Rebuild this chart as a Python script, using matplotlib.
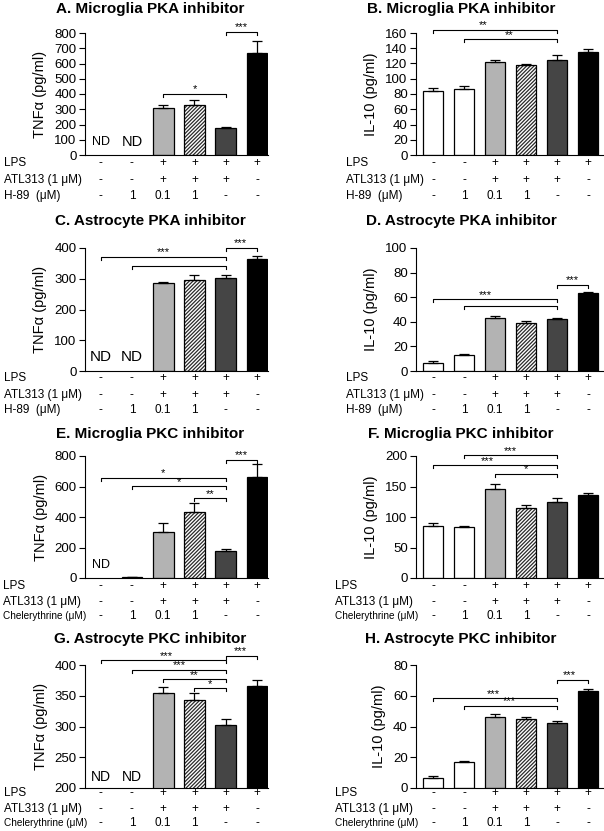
import numpy as np
import matplotlib
matplotlib.use('Agg')
import matplotlib.pyplot as plt
from matplotlib.transforms import blended_transform_factory

plt.rcParams['font.family'] = ['Liberation Sans', 'DejaVu Sans']
plt.rcParams['hatch.linewidth'] = 0.9

nan = np.nan

# ---------------- data ----------------
titles = ["A. Microglia PKA inhibitor", "B. Microglia PKA inhibitor",
          "C. Astrocyte PKA inhibitor", "D. Astrocyte PKA inhibitor",
          "E. Microglia PKC inhibitor", "F. Microglia PKC inhibitor",
          "G. Astrocyte PKC inhibitor", "H. Astrocyte PKC inhibitor"]
ylabels = ["TNF\u03b1 (pg/ml)", "IL-10 (pg/ml)"] * 4
ylims = [(0, 800), (0, 160), (0, 400), (0, 100), (0, 800), (0, 200), (200, 400), (0, 80)]
ysteps = [100, 20, 100, 20, 200, 50, 50, 20]

vals_A = [nan, nan, 311, 327, 180, 669]
err_A = [0, 0, 15, 35, 6, 81]
vals_B = [84.3, 87, 121.7, 117.4, 124.8, 135.6]
err_B = [4, 3.4, 2.3, 1.7, 6.2, 4]
vals_C = [nan, nan, 286, 297, 302, 365]
err_C = [0, 0, 3, 15, 10, 8]
vals_D = [6.5, 12.7, 43, 39, 42, 63.3]
err_D = [1.6, 1.1, 1.6, 1.3, 1.1, 1.1]
vals_E = [nan, 5, 304, 435, 178, 663]
err_E = [0, 1, 59, 54, 9, 83]
vals_F = [85, 84, 146, 114, 125.4, 136]
err_F = [4.8, 1.5, 8, 5, 5.6, 3.5]
vals_G = [nan, nan, 355, 343, 302, 366]
err_G = [0, 0, 10, 12, 11, 9]
vals_H = [6.5, 16.9, 46.5, 45, 42.4, 63.4]
err_H = [1.5, 0.6, 1.7, 1.5, 1.5, 1.2]
values = [vals_A, vals_B, vals_C, vals_D, vals_E, vals_F, vals_G, vals_H]
errors = [err_A, err_B, err_C, err_D, err_E, err_F, err_G, err_H]

lps_row = ['-', '-', '+', '+', '+', '+']
atl_row = ['-', '-', '+', '+', '+', '-']
dose_row = ['-', '1', '0.1', '1', '-', '-']
row_names_pka = ["LPS", "ATL313 (1 \u03bcM)", "H-89  (\u03bcM)"]
row_names_pkc = ["LPS", "ATL313 (1 \u03bcM)", "Chelerythrine (\u03bcM)"]

# significance brackets: (bar1, bar2, y, label, label_x)
brackets = [
    [(2, 4, 401, '*', 3.0), (4, 5, 807, '***', 4.5)],
    [(0, 4, 164, '**', 1.6), (1, 4, 152, '**', 2.45)],
    [(0, 4, 371, '***', 2.0), (1, 4, 343, '', 2.5), (4, 5, 400, '***', 4.45)],
    [(0, 4, 58.3, '***', 1.7), (1, 4, 52.8, '', 2.5), (4, 5, 70, '***', 4.5)],
    [(0, 4, 656, '*', 2.0), (1, 4, 602, '*', 2.5), (3, 4, 522, '**', 3.5), (4, 5, 776, '***', 4.5)],
    [(1, 4, 201, '***', 2.5), (0, 4, 185, '***', 1.75), (2, 4, 171, '*', 3.0)],
    [(0, 4, 408, '***', 2.1), (1, 4, 392, '***', 2.5), (2, 4, 377, '**', 3.0),
     (3, 4, 362, '*', 3.5), (4, 5, 415, '***', 4.45)],
    [(0, 4, 58.4, '***', 1.95), (1, 4, 53.4, '***', 2.45), (4, 5, 70.3, '***', 4.4)],
]
# ND labels: (bar, y, fontsize)
nd_labels = [
    [(0, 87, 9), (1, 87, 10.5)], [],
    [(0, 46, 11), (1, 46, 11)], [],
    [(0, 87, 9)], [],
    [(0, 218, 10), (1, 218, 10)], [],
]

face_colors = ['white', 'white', '#b3b3b3', 'white', '#454545', 'black']
hatched = [False, False, False, True, False, False]

# ---------------- layout ----------------
W, H = 604, 831
fig = plt.figure(figsize=(W / 100, H / 100), dpi=100)

row_axes_px = [(33, 155), (248, 371), (456, 578), (665, 788)]
col_axes_px = [(85, 268), (416, 603)]
col_xlims = [(-0.5, 5.35), (-0.55, 5.48)]
title_y_px = [9, 221, 434, 639]
title_x_px = [150, 461]
rowlab_y_px = [(163, 180, 196), (378, 395, 410), (586, 602, 616), (793, 809, 823)]
rowlab_x_px = [[4, 346], [4, 346], [3, 335], [4, 335]]

for p in range(8):
    r, c = divmod(p, 2)
    top, bot = row_axes_px[r]
    lft, rgt = col_axes_px[c]
    ax = fig.add_axes([lft / W, 1 - bot / H, (rgt - lft) / W, (bot - top) / H])
    ymin, ymax = ylims[p]
    ax.set_xlim(*col_xlims[c])
    ax.set_ylim(ymin, ymax)
    ax.set_yticks(np.arange(ymin, ymax + 0.001, ysteps[p]))
    ax.set_xticks([])
    for s in ['top', 'right']:
        ax.spines[s].set_visible(False)
    for s in ['left', 'bottom']:
        ax.spines[s].set_linewidth(0.8)
    ax.tick_params(axis='y', direction='out', length=4, width=0.8, labelsize=9.5, pad=2)
    ax.set_ylabel(ylabels[p], fontsize=10.5, labelpad=5)

    w = 0.66
    for i, (v, e) in enumerate(zip(values[p], errors[p])):
        if np.isnan(v):
            continue
        if hatched[i]:
            ax.bar(i, v, width=w, color='white', edgecolor='#2a2a2a', hatch='/////////',
                   linewidth=0, zorder=2)
            ax.bar(i, v, width=w, fill=False, edgecolor='black', linewidth=0.9, zorder=3)
        else:
            ax.bar(i, v, width=w, color=face_colors[i], edgecolor='black', linewidth=0.9, zorder=2)
        ax.errorbar(i, v, yerr=[[0], [e]], fmt='none', ecolor='black', elinewidth=0.9,
                    capsize=3.5, capthick=0.9, zorder=4)

    rng = ymax - ymin
    t = 0.025 * rng
    for (x1, x2, y, lab, lx) in brackets[p]:
        ax.plot([x1, x1, x2, x2], [y - t, y, y, y - t], color='black', lw=0.8,
                clip_on=False, zorder=5)
        if lab:
            ax.text(lx, y + 0.012 * rng, lab, ha='center', va='baseline', fontsize=8,
                    clip_on=False)
    for (i, y, fs) in nd_labels[p]:
        ax.text(i, y, 'ND', ha='center', va='center', fontsize=fs)

    # title
    fig.text(title_x_px[c] / W, 1 - title_y_px[r] / H, titles[p], ha='center', va='center',
             fontsize=11, fontweight='bold')

    # condition rows
    names = row_names_pka if r < 2 else row_names_pkc
    trans = blended_transform_factory(ax.transData, fig.transFigure)
    for k, (name, row) in enumerate(zip(names, [lps_row, atl_row, dose_row])):
        yy = 1 - rowlab_y_px[r][k] / H
        fs_name = 7.2 if name.startswith('Chel') else 8.5
        fig.text(rowlab_x_px[r][c] / W, yy, name, ha='left', va='center', fontsize=fs_name)
        for i, sym in enumerate(row):
            ax.text(i, yy, sym, transform=trans, ha='center', va='center', fontsize=8.5)

fig.savefig('out.png', dpi=100)
